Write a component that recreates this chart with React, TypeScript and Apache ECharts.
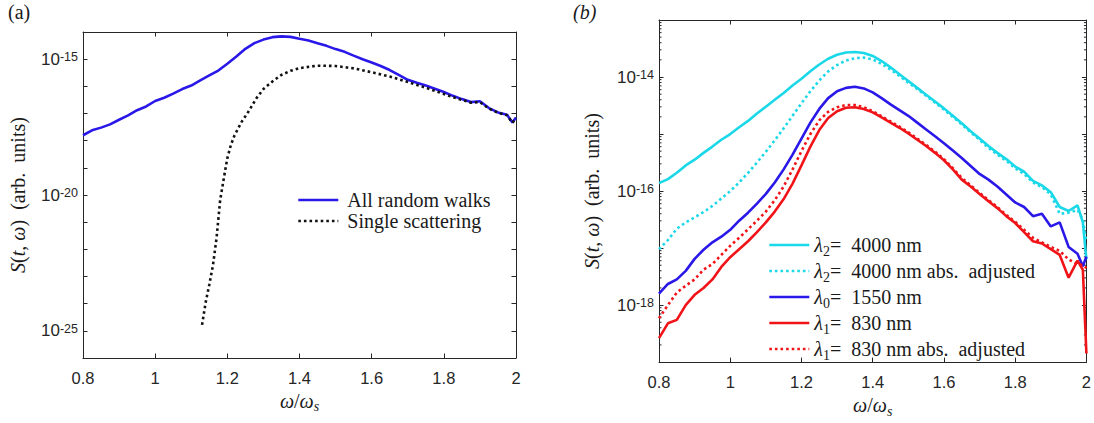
import React, { useEffect, useRef } from "react";
import * as echarts from "echarts";

// ---------- data (values are log10 of S(t, ω)) ----------
const omegaLeft = [
  0.8, 0.825, 0.85, 0.875, 0.9, 0.925, 0.95, 0.975, 1.0, 1.025, 1.05, 1.075, 1.1, 1.125, 1.15, 1.175,
  1.2, 1.225, 1.25, 1.275, 1.3, 1.325, 1.35, 1.375, 1.4, 1.425, 1.45, 1.475, 1.5, 1.525, 1.55, 1.575,
  1.6, 1.625, 1.65, 1.675, 1.7, 1.725, 1.75, 1.775, 1.8, 1.825, 1.85, 1.875, 1.9, 1.925, 1.95, 1.975,
  1.99, 2.0,
];
const allRandomWalksLog10 = [
  -17.8, -17.62, -17.52, -17.4, -17.23, -17.07, -16.88, -16.74, -16.54, -16.42, -16.27, -16.1, -15.97, -15.78, -15.6, -15.42,
  -15.17, -14.9, -14.62, -14.41, -14.28, -14.19, -14.16, -14.18, -14.25, -14.31, -14.41, -14.51, -14.63, -14.73, -14.87, -15.0,
  -15.12, -15.25, -15.4, -15.58, -15.76, -15.87, -15.97, -16.09, -16.21, -16.35, -16.47, -16.58, -16.55, -16.8, -16.96, -17.05,
  -17.33, -17.15,
];
const omegaSingle = [
  1.13, 1.14, 1.15, 1.16, 1.17, 1.18, 1.19, 1.2, 1.21, 1.22, 1.24, 1.26, 1.28, 1.3, 1.325, 1.35, 1.375, 1.4,
  1.45, 1.5, 1.55, 1.6, 1.65, 1.7, 1.75, 1.8, 1.825, 1.85, 1.875, 1.9, 1.925, 1.95, 1.975, 1.99, 2.0,
];
const singleScatteringLog10 = [
  -24.78, -23.95, -23.3, -22.6, -21.6, -20.2, -19.4, -18.65, -18.15, -17.8, -17.3, -16.9, -16.45, -16.1, -15.82, -15.58, -15.43, -15.33,
  -15.24, -15.25, -15.34, -15.48, -15.64, -15.84, -16.05, -16.28, -16.4, -16.5, -16.6, -16.58, -16.82, -16.97, -17.06, -17.34, -17.17,
];

const omegaRight = [
  0.8, 0.825, 0.85, 0.875, 0.9, 0.925, 0.95, 0.975, 1.0, 1.025, 1.05, 1.075, 1.1, 1.125, 1.15, 1.175,
  1.2, 1.225, 1.25, 1.275, 1.3, 1.325, 1.35, 1.375, 1.4, 1.425, 1.45, 1.475, 1.5, 1.525, 1.55, 1.575,
  1.6, 1.625, 1.65, 1.675, 1.7, 1.725, 1.75, 1.775, 1.8, 1.825, 1.85, 1.875, 1.9, 1.925, 1.95, 1.975,
  1.99, 2.0,
];
const lambda2Log10 = [
  -15.86, -15.79, -15.68, -15.55, -15.45, -15.33, -15.22, -15.1, -15.0, -14.88, -14.77, -14.64, -14.52, -14.4, -14.28, -14.15,
  -14.03, -13.9, -13.78, -13.68, -13.61, -13.57, -13.56, -13.58, -13.63, -13.72, -13.83, -13.95, -14.07, -14.19, -14.31, -14.43,
  -14.55, -14.68, -14.81, -14.95, -15.08, -15.21, -15.33, -15.44, -15.57, -15.66, -15.82, -15.9, -16.02, -16.28, -16.35, -16.25,
  -16.55, -17.2,
];
const lambda2AdjLog10 = [
  -17.02, -16.86, -16.66, -16.55, -16.46, -16.37, -16.26, -16.13, -16.0, -15.85, -15.68, -15.5, -15.31, -15.11, -14.9, -14.68,
  -14.46, -14.25, -14.06, -13.9, -13.79, -13.71, -13.67, -13.66, -13.69, -13.77, -13.87, -13.98, -14.1, -14.21, -14.33, -14.45,
  -14.57, -14.7, -14.83, -14.97, -15.1, -15.24, -15.36, -15.47, -15.6, -15.7, -15.85, -15.93, -16.06, -16.4, -16.38, -16.33,
  -16.5, -16.9,
];
const lambda0Log10 = [
  -17.8, -17.63, -17.55, -17.4, -17.19, -17.03, -16.9, -16.8, -16.68, -16.52, -16.38, -16.22, -16.05, -15.85, -15.62, -15.36,
  -15.08, -14.8, -14.56, -14.37, -14.25, -14.19, -14.17, -14.2, -14.27, -14.37, -14.48, -14.58, -14.68, -14.8, -14.92, -15.04,
  -15.16, -15.29, -15.42, -15.56, -15.7, -15.8, -15.92, -16.06, -16.2, -16.28, -16.44, -16.4, -16.62, -16.55, -16.98, -17.1,
  -17.32, -17.15,
];
const lambda1Log10 = [
  -18.58, -18.32, -18.26, -18.0, -17.82, -17.7, -17.55, -17.33, -17.16, -17.02, -16.88, -16.72, -16.55, -16.36, -16.14, -15.87,
  -15.55, -15.22, -14.93, -14.72, -14.6, -14.54, -14.53, -14.56, -14.62, -14.71, -14.8, -14.89, -14.99, -15.1, -15.21, -15.33,
  -15.46, -15.62, -15.8, -15.92, -16.05, -16.18, -16.3, -16.44, -16.56, -16.72, -16.88, -16.92, -17.02, -17.12, -17.52, -17.22,
  -17.38, -18.85,
];
const lambda1AdjLog10 = [
  -18.23, -18.0, -17.78, -17.66, -17.55, -17.38, -17.28, -17.12, -16.96, -16.82, -16.67, -16.52, -16.36, -16.16, -15.92, -15.62,
  -15.3, -15.0, -14.76, -14.61, -14.53, -14.49, -14.49, -14.53, -14.6, -14.69, -14.78, -14.87, -14.97, -15.08, -15.19, -15.31,
  -15.44, -15.6, -15.77, -15.9, -16.03, -16.16, -16.28, -16.42, -16.54, -16.68, -16.82, -16.9, -16.98, -17.05, -17.2, -17.28,
  -17.3, -17.35,
];

const leftLegendNames = ["All random walks", "Single scattering"];
const rightLegendNames = [
  "λ2= 4000 nm",
  "λ2= 4000 nm abs. adjusted",
  "λ0= 1550 nm",
  "λ1= 830 nm",
  "λ1= 830 nm abs. adjusted",
];
const rightLegendRich = [
  "{g|λ}{sub|2}{t|=  4000 nm}",
  "{g|λ}{sub|2}{t|=  4000 nm abs.  adjusted}",
  "{g|λ}{sub|0}{t|=  1550 nm}",
  "{g|λ}{sub|1}{t|=  830 nm}",
  "{g|λ}{sub|1}{t|=  830 nm abs.  adjusted}",
];
const leftYLabelExponents = [-25, -20, -15];
const rightYLabelExponents = [-18, -16, -14];
const xTickStep = 0.2;

// ---------- styling ----------
const AXIS = "#262626";
const TXT = "#1a1a1a";
const SANS = "Liberation Sans";
const SERIF = "Liberation Serif";
const BLUE = "#2a18e8";
const CYAN = "#1ad8e8";
const RED = "#f01418";

const pairs = (xs: number[], ys: number[]) => xs.map((x, i) => [x, ys[i]]);

const tickRich = {
  b: { fontSize: 17, fontFamily: SANS, color: AXIS, lineHeight: 17, verticalAlign: "bottom" },
  s: { fontSize: 12.5, fontFamily: SANS, color: AXIS, lineHeight: 12, verticalAlign: "top", padding: [0, 0, 10, 0] },
};

const serifRich = {
  i: { fontFamily: SERIF, fontSize: 20, fontStyle: "italic", color: TXT, lineHeight: 20, verticalAlign: "top" },
  r: { fontFamily: SERIF, fontSize: 20, color: TXT, lineHeight: 20, verticalAlign: "top" },
  sub: { fontFamily: SERIF, fontSize: 14, fontStyle: "italic", color: TXT, lineHeight: 14, verticalAlign: "top", padding: [9, 0, 0, 0] },
};

const yName = "{i|S}{r|(}{i|t}{r|, }{i|ω}{r|)  (arb.  units)}";
const xName = "{i|ω}{r|/}{i|ω}{sub|s}";

function xAxisMain(grid: number, nameGap: number) {
  return {
    type: "value",
    gridIndex: grid,
    min: 0.8,
    max: 2,
    interval: xTickStep,
    position: "bottom",
    axisLine: { show: true, lineStyle: { color: AXIS, width: 1 } },
    axisTick: { show: true, inside: true, length: 4.5, lineStyle: { color: AXIS } },
    splitLine: { show: false },
    axisLabel: {
      margin: 11,
      fontSize: 16.5,
      fontFamily: SANS,
      color: AXIS,
      formatter: (v: number) => String(Math.round(v * 10) / 10),
    },
    name: xName,
    nameLocation: "middle",
    nameGap,
    nameTextStyle: { fontFamily: SERIF, fontSize: 20, color: TXT, rich: serifRich },
  };
}
function xAxisMirror(grid: number) {
  return {
    type: "value",
    gridIndex: grid,
    min: 0.8,
    max: 2,
    interval: xTickStep,
    position: "top",
    axisLine: { show: true, lineStyle: { color: AXIS, width: 1 } },
    axisTick: { show: true, inside: true, length: 4.5, lineStyle: { color: AXIS } },
    splitLine: { show: false },
    axisLabel: { show: false },
  };
}
function yAxisMain(grid: number, min: number, max: number, labels: number[], nameGap: number) {
  return {
    type: "value",
    gridIndex: grid,
    min,
    max,
    interval: 1,
    position: "left",
    axisLine: { show: true, lineStyle: { color: AXIS, width: 1 } },
    axisTick: { show: true, inside: true, length: 4.5, lineStyle: { color: AXIS } },
    splitLine: { show: false },
    axisLabel: {
      margin: 5,
      fontSize: 17,
      fontFamily: SANS,
      color: AXIS,
      rich: tickRich,
      formatter: (v: number) => {
        const e = Math.round(v);
        return labels.includes(e) ? `{b|10}{s|${e}}` : "";
      },
    },
    name: yName,
    nameLocation: "middle",
    nameGap,
    nameTextStyle: { fontFamily: SERIF, fontSize: 20, color: TXT, rich: serifRich },
  };
}
function yAxisMirror(grid: number, min: number, max: number) {
  return {
    type: "value",
    gridIndex: grid,
    min,
    max,
    interval: 1,
    position: "right",
    axisLine: { show: true, lineStyle: { color: AXIS, width: 1 } },
    axisTick: { show: true, inside: true, length: 4.5, lineStyle: { color: AXIS } },
    splitLine: { show: false },
    axisLabel: { show: false },
  };
}

// log-spaced minor tick positions for the right panel (axis decoration)
const minorTicks: number[][] = [];
for (let n = -19; n < -13; n++) {
  for (let k = 2; k <= 9; k++) minorTicks.push([0.8, n + Math.log10(k)]);
}

function line(name: string, x: number[], y: number[], color: string, dotted: boolean, xi: number) {
  return {
    type: "line",
    name,
    xAxisIndex: xi,
    yAxisIndex: xi,
    data: pairs(x, y),
    symbol: "none",
    showSymbol: false,
    silent: true,
    lineStyle: { color, width: 2.6, type: dotted ? [2.6, 3] : "solid", cap: "butt" },
    itemStyle: { color },
  };
}

export default function App() {
  const ref = useRef<HTMLDivElement>(null);
  useEffect(() => {
    document.body.style.margin = "0";
    const chart = echarts.init(ref.current!, null, { renderer: "svg" });
    const legendCommon = {
      orient: "vertical",
      padding: 0,
      itemWidth: 40,
      itemHeight: 20,
      lineStyle: { width: 2.6 },
      itemStyle: { opacity: 0, borderWidth: 0 },
      selectedMode: false,
    };
    const option: any = {
      animation: false,
      backgroundColor: "#ffffff",
      textStyle: { fontFamily: SERIF },
      grid: [
        { left: 83, top: 32, width: 433, height: 326 },
        { left: 659, top: 20, width: 432, height: 346 },
      ],
      xAxis: [xAxisMain(0, 29), xAxisMain(1, 31), xAxisMirror(0), xAxisMirror(1)],
      yAxis: [
        yAxisMain(0, -26, -14, leftYLabelExponents, 55),
        yAxisMain(1, -19, -13, rightYLabelExponents, 57),
        yAxisMirror(0, -26, -14),
        yAxisMirror(1, -19, -13),
      ],
      legend: [
        {
          ...legendCommon,
          data: leftLegendNames,
          left: 297,
          top: 190,
          itemGap: 1,
          textStyle: { fontFamily: SERIF, fontSize: 20, color: TXT, lineHeight: 20, padding: [0, 0, 0, 4] },
        },
        {
          ...legendCommon,
          data: rightLegendNames,
          left: 768,
          top: 235,
          itemGap: 3,
          formatter: (name: string) => rightLegendRich[rightLegendNames.indexOf(name)],
          textStyle: {
            fontFamily: SERIF,
            fontSize: 20,
            color: TXT,
            rich: {
              g: { fontFamily: SERIF, fontSize: 20, fontStyle: "italic", color: TXT, lineHeight: 20, verticalAlign: "top" },
              t: { fontFamily: SERIF, fontSize: 20, color: TXT, lineHeight: 20, verticalAlign: "top" },
              sub: { fontFamily: SERIF, fontSize: 14, color: TXT, lineHeight: 14, verticalAlign: "top", padding: [9, 0, 0, 0] },
            },
          },
        },
      ],
      graphic: [
        { type: "text", left: 8, top: 2, style: { text: "(a)", fontFamily: SERIF, fontSize: 20, fill: TXT } },
        { type: "text", left: 573, top: 2, style: { text: "(b)", fontFamily: SERIF, fontStyle: "italic", fontSize: 20, fill: TXT } },
      ],
      series: [
        line(leftLegendNames[0], omegaLeft, allRandomWalksLog10, BLUE, false, 0),
        line(leftLegendNames[1], omegaSingle, singleScatteringLog10, "#111111", true, 0),
        line(rightLegendNames[0], omegaRight, lambda2Log10, CYAN, false, 1),
        line(rightLegendNames[1], omegaRight, lambda2AdjLog10, CYAN, true, 1),
        line(rightLegendNames[2], omegaRight, lambda0Log10, BLUE, false, 1),
        line(rightLegendNames[3], omegaRight, lambda1Log10, RED, false, 1),
        line(rightLegendNames[4], omegaRight, lambda1AdjLog10, RED, true, 1),
        {
          type: "custom",
          name: "minor ticks",
          xAxisIndex: 1,
          yAxisIndex: 1,
          silent: true,
          clip: false,
          data: minorTicks,
          renderItem: (_p: any, api: any) => {
            const y = api.value(1);
            const l = api.coord([0.8, y]);
            const r = api.coord([2.0, y]);
            const st = { stroke: AXIS, lineWidth: 1 };
            return {
              type: "group",
              children: [
                { type: "line", shape: { x1: l[0], y1: l[1], x2: l[0] + 2.5, y2: l[1] }, style: st },
                { type: "line", shape: { x1: r[0], y1: r[1], x2: r[0] - 2.5, y2: r[1] }, style: st },
              ],
            };
          },
        },
      ],
    };
    chart.setOption(option);
    return () => chart.dispose();
  }, []);
  return <div ref={ref} style={{ width: 1094, height: 423 }} />;
}
